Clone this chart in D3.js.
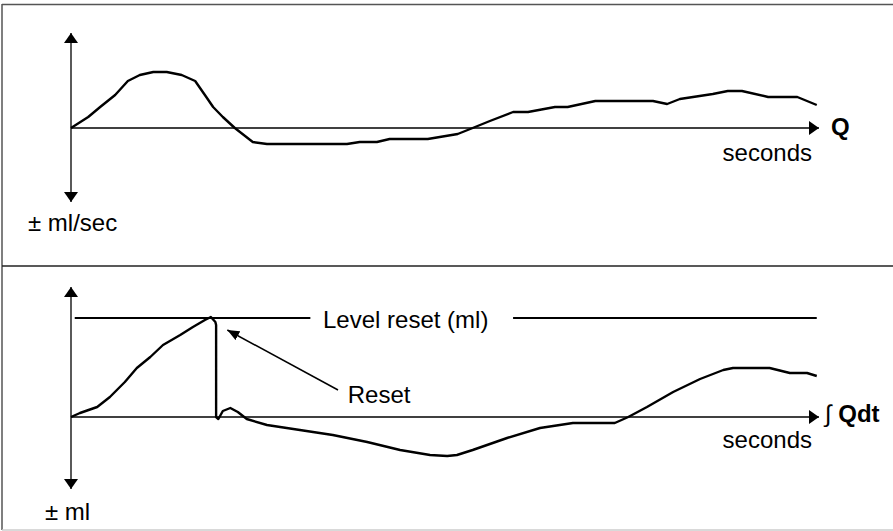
<!DOCTYPE html>
<html>
<head>
<meta charset="utf-8">
<script src="https://cdn.jsdelivr.net/npm/d3@7"></script>
<style>
  html, body { margin: 0; padding: 0; background: #fff; }
  svg { display: block; }
  text { font-family: "Liberation Sans", Arial, sans-serif; fill: #000; }
</style>
</head>
<body>
<svg id="chart" width="893" height="531"></svg>
<script>
// ---------- DATA ----------
// Top panel: flow rate Q (ml/sec) vs time (seconds, arbitrary 0..100)
const flowTime  = [0, 2.3, 3.9, 5.9, 7.6, 9.2, 11.0, 12.8, 14.8, 16.6, 17.9, 19.0, 20.3, 21.9, 24.3, 26.2, 36.9, 38.6, 40.9, 42.6, 47.7, 49.3, 51.7, 53.7, 56.0, 59.1, 61.1, 64.7, 66.4, 70.1, 77.8, 79.7, 81.4, 85.8, 87.8, 89.7, 93.2, 97.1, 99.7];
const flowValue = [0, 1.1, 2.1, 3.3, 4.7, 5.3, 5.6, 5.6, 5.3, 4.7, 3.3, 2.1, 1.1, 0, -1.4, -1.6, -1.6, -1.4, -1.4, -1.1, -1.1, -0.9, -0.6, 0, 0.7, 1.6, 1.6, 2.1, 2.1, 2.7, 2.7, 2.4, 2.9, 3.4, 3.7, 3.7, 3.1, 3.1, 2.3];

// Bottom panel: integrated volume ∫Qdt (ml) vs time, with a reset
const volTime  = [0, 1.2, 3.5, 5.2, 7.2, 8.8, 10.6, 12.3, 14.6, 16.3, 17.9, 18.7, 19.3, 19.4, 19.4, 19.7, 20.3, 21.3, 22.3, 23.5, 26.2, 30.6, 35.0, 39.6, 44.0, 48.0, 50.3, 51.6, 53.7, 58.3, 62.7, 67.1, 72.7, 74.5, 77.0, 80.5, 84.1, 87.2, 88.5, 93.4, 96.1, 98.4, 99.7];
const volValue = [0, 0.4, 1.0, 2.0, 3.5, 4.9, 6.0, 7.2, 8.2, 9.0, 9.7, 10.0, 9.5, 9.2, 0, -0.2, 0.6, 0.9, 0.5, -0.2, -0.8, -1.3, -1.8, -2.5, -3.3, -3.8, -3.9, -3.8, -3.3, -2.1, -1.1, -0.6, -0.6, 0, 1.0, 2.5, 3.8, 4.7, 4.9, 4.9, 4.4, 4.4, 4.1];

// Level reset threshold (ml) and its drawn extents (time units)
const levelReset = 9.9;
const levelSegments = [[0.5, 32.0], [59.1, 99.7]];

// Axis extents
const timeDomain = [0, 100];
const flowDomain = [-7.4, 9.5];
const volDomain  = [-7.2, 13.0];

// Labels
const labels = {
  flowUnit: "± ml/sec",
  flowName: "Q",
  volUnit: "± ml",
  volName: "Qdt",
  integral: "∫",
  xUnit: "seconds",
  level: "Level reset (ml)",
  reset: "Reset"
};
// Reset annotation arrow (time, ml): tail -> tip
const resetArrow = { tail: [35.7, 2.7], tip: [20.9, 8.7], labelAt: [37.0, 1.5] };

// ---------- DRAW ----------
const svg = d3.select("#chart");
const W = 893, H = 531;

// frame
svg.append("line").attr("x1", 2).attr("x2", 2).attr("y1", 4).attr("y2", 530)
  .attr("stroke", "#555").attr("stroke-width", 1.5);
svg.append("line").attr("x1", 2).attr("x2", W).attr("y1", 4.5).attr("y2", 4.5)
  .attr("stroke", "#555").attr("stroke-width", 1.5);
svg.append("line").attr("x1", 2).attr("x2", W).attr("y1", 266).attr("y2", 266)
  .attr("stroke", "#222").attr("stroke-width", 1.5);
svg.append("line").attr("x1", 2).attr("x2", W).attr("y1", 530).attr("y2", 530)
  .attr("stroke", "#ccc").attr("stroke-width", 1.5);

// markers
const defs = svg.append("defs");
defs.append("marker").attr("id", "ah")
  .attr("viewBox", "0 0 10 14").attr("refX", 10).attr("refY", 7)
  .attr("markerWidth", 10).attr("markerHeight", 14)
  .attr("markerUnits", "userSpaceOnUse").attr("orient", "auto-start-reverse")
  .append("path").attr("d", "M0,0 L10,7 L0,14 Z").attr("fill", "#000");
defs.append("marker").attr("id", "ah2")
  .attr("viewBox", "0 0 12 10").attr("refX", 12).attr("refY", 5)
  .attr("markerWidth", 12).attr("markerHeight", 10)
  .attr("markerUnits", "userSpaceOnUse").attr("orient", "auto")
  .append("path").attr("d", "M0,0 L12,5 L0,10 Z").attr("fill", "#000");

const x = d3.scaleLinear().domain(timeDomain).range([71, 819]);
const yTop = d3.scaleLinear().domain(flowDomain).range([202, 33]);
const yBot = d3.scaleLinear().domain(volDomain).range([489, 287]);

function axes(y) {
  const g = svg.append("g");
  g.append("line")
    .attr("x1", x(0)).attr("x2", x(0))
    .attr("y1", y(y.domain()[0])).attr("y2", y(y.domain()[1]))
    .attr("stroke", "#000").attr("stroke-width", 1.3)
    .attr("marker-start", "url(#ah)").attr("marker-end", "url(#ah)");
  g.append("line")
    .attr("x1", x(0)).attr("x2", x(timeDomain[1]))
    .attr("y1", y(0)).attr("y2", y(0))
    .attr("stroke", "#000").attr("stroke-width", 1.3)
    .attr("marker-end", "url(#ah)");
}
axes(yTop);
axes(yBot);

// curves
const flowData = flowTime.map((t, i) => [t, flowValue[i]]);
const volData = volTime.map((t, i) => [t, volValue[i]]);

svg.append("path").datum(flowData)
  .attr("d", d3.line().x(d => x(d[0])).y(d => yTop(d[1])))
  .attr("fill", "none").attr("stroke", "#000").attr("stroke-width", 2.4)
  .attr("stroke-linejoin", "round");

svg.append("path").datum(volData)
  .attr("d", d3.line().x(d => x(d[0])).y(d => yBot(d[1])))
  .attr("fill", "none").attr("stroke", "#000").attr("stroke-width", 2.4)
  .attr("stroke-linejoin", "round");

// level reset lines
svg.selectAll(".lvl").data(levelSegments).enter().append("line")
  .attr("x1", d => x(d[0])).attr("x2", d => x(d[1]))
  .attr("y1", yBot(levelReset)).attr("y2", yBot(levelReset))
  .attr("stroke", "#000").attr("stroke-width", 2);

// reset annotation arrow
svg.append("line")
  .attr("x1", x(resetArrow.tail[0])).attr("y1", yBot(resetArrow.tail[1]))
  .attr("x2", x(resetArrow.tip[0])).attr("y2", yBot(resetArrow.tip[1]))
  .attr("stroke", "#000").attr("stroke-width", 1.5)
  .attr("marker-end", "url(#ah2)");

// texts
const fs = 24;
svg.append("text").attr("x", 28).attr("y", 231).attr("font-size", fs).text(labels.flowUnit);
svg.append("text").attr("x", 45).attr("y", 520).attr("font-size", fs).text(labels.volUnit);
svg.append("text").attr("x", 812).attr("y", 161).attr("font-size", fs)
  .attr("text-anchor", "end").text(labels.xUnit);
svg.append("text").attr("x", 812).attr("y", 448).attr("font-size", fs)
  .attr("text-anchor", "end").text(labels.xUnit);
svg.append("text").attr("x", 831).attr("y", 135).attr("font-size", fs)
  .attr("font-weight", "bold").text(labels.flowName);
const it = svg.append("text").attr("x", 825).attr("y", 422).attr("font-size", fs);
it.append("tspan").text(labels.integral + " ");
it.append("tspan").attr("font-weight", "bold").text(labels.volName);
svg.append("text").attr("x", 323).attr("y", 328).attr("font-size", fs).text(labels.level);
svg.append("text").attr("x", x(resetArrow.labelAt[0])).attr("y", 403).attr("font-size", fs).text(labels.reset);
</script>
</body>
</html>
